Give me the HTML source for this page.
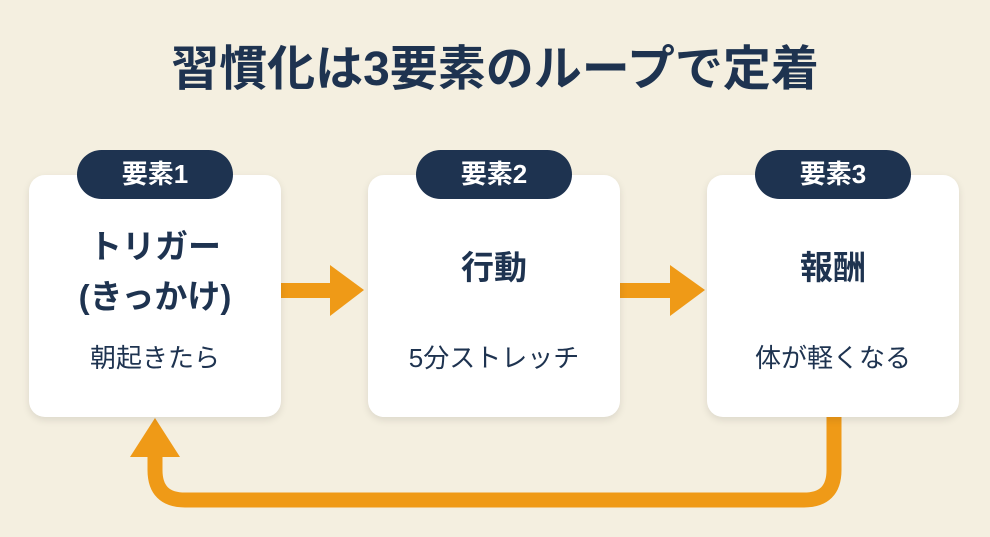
<!DOCTYPE html>
<html><head><meta charset="utf-8"><style>
body{margin:0;width:990px;height:537px;background:#f4efe0;font-family:"Liberation Sans","Noto Sans CJK JP",sans-serif;color:#1e3350;position:relative;overflow:hidden}
.t{position:absolute;left:0;width:990px;text-align:center;top:40px;font-size:48px;font-weight:bold;line-height:60px}
.card{position:absolute;top:175px;width:252px;height:242px;background:#fff;border-radius:16px;box-shadow:0 3px 8px rgba(0,0,0,.1)}
.pill{position:absolute;top:150px;width:156px;height:49px;background:#1e3350;border-radius:25px;color:#fff;font-weight:bold;font-size:26px;text-align:center;line-height:49px}
.m{position:absolute;width:252px;text-align:center;font-weight:bold;font-size:33px;line-height:50px}
.s{position:absolute;width:252px;text-align:center;font-size:26px;top:340px;line-height:36px}
</style></head><body>
<div class="t">習慣化は3要素のループで定着</div>
<svg width="990" height="537" style="position:absolute;left:0;top:0">
<g fill="#ef9a17">
<rect x="280" y="283" width="52" height="15"/><polygon points="330,265 364,290 330,316"/>
<rect x="620" y="283" width="52" height="15"/><polygon points="670,265 705,290 670,316"/>
<polygon points="130,457 155,418 180,457"/>
</g>
<path d="M834 417 V470 Q834 500 804 500 H185 Q155 500 155 470 V455" fill="none" stroke="#ef9a17" stroke-width="15"/>
</svg>
<div class="card" style="left:29px"></div>
<div class="card" style="left:368px"></div>
<div class="card" style="left:707px"></div>
<div class="pill" style="left:77px">要素1</div>
<div class="pill" style="left:416px">要素2</div>
<div class="pill" style="left:755px">要素3</div>
<div class="m" style="left:29px;top:222px">トリガー<br>(きっかけ)</div>
<div class="m" style="left:368px;top:243px">行動</div>
<div class="m" style="left:707px;top:243px">報酬</div>
<div class="s" style="left:29px">朝起きたら</div>
<div class="s" style="left:368px">5分ストレッチ</div>
<div class="s" style="left:707px">体が軽くなる</div>
</body></html>
